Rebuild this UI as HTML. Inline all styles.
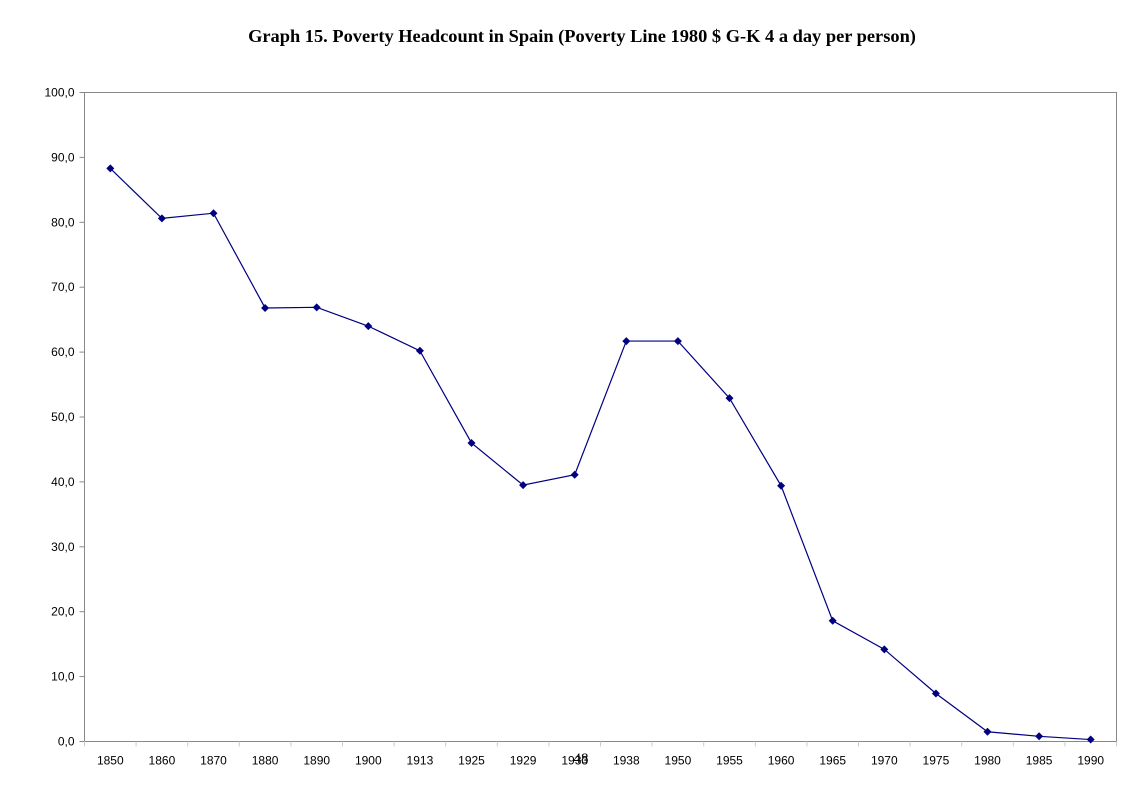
<!DOCTYPE html>
<html><head><meta charset="utf-8">
<style>
html,body{margin:0;padding:0;background:#fff;}
body{width:1144px;height:797px;overflow:hidden;}
svg text{font-family:"Liberation Sans",sans-serif;}
</style></head>
<body>
<svg id="chart" width="1144" height="797" xmlns="http://www.w3.org/2000/svg">
<text x="582" y="42" text-anchor="middle" style="font-family:'Liberation Serif',serif;font-weight:bold;font-size:18.4px">Graph 15. Poverty Headcount in Spain (Poverty Line 1980 $ G-K 4 a day per person)</text>
<rect x="84.5" y="92.5" width="1032" height="649" fill="#fff" stroke="#888" stroke-width="1"/>
<g id="axes"></g>
<g id="series"></g>
<text x="581" y="763" text-anchor="middle" style="font-family:'Liberation Serif',serif;font-size:15px">48</text>
</svg>
<script>
const categories = ["1850","1860","1870","1880","1890","1900","1913","1925","1929","1933","1938","1950","1955","1960","1965","1970","1975","1980","1985","1990"];
const values = [88.3,80.6,81.4,66.8,66.9,64.0,60.2,46.0,39.5,41.1,61.7,61.7,52.9,39.4,18.6,14.2,7.4,1.5,0.8,0.3];
const yTicks = [0,10,20,30,40,50,60,70,80,90,100];
const yTickLabels = ["0,0","10,0","20,0","30,0","40,0","50,0","60,0","70,0","80,0","90,0","100,0"];

const L=84.5, R=1116.5, T=92.5, B=741.5;
const band=(R-L)/categories.length;
const x=i=>L+band*(i+0.5);
const y=v=>B-(v/100)*(B-T);
const NS="http://www.w3.org/2000/svg";
const axes=document.getElementById('axes');
const series=document.getElementById('series');
function mk(tag,attrs,parent){const e=document.createElementNS(NS,tag);for(const k in attrs)e.setAttribute(k,attrs[k]);parent.appendChild(e);return e;}

yTicks.forEach((t,i)=>{
  const tk=mk('line',{x1:L-5,x2:L,y1:y(t),y2:y(t),stroke:'#888'},axes);
  
  
  const tx=mk('text',{x:L-10,y:y(t)+4,'text-anchor':'end','font-size':'12px'},axes);
  tx.textContent=yTickLabels[i];
  
  
});
for(let i=0;i<=categories.length;i++){
  const tk=mk('line',{x1:L+band*i,x2:L+band*i,y1:B,y2:B+5,stroke:'#ccc'},axes);
  
  
}
categories.forEach((c,i)=>{
  const tx=mk('text',{x:x(i),y:B+23,'text-anchor':'middle','font-size':'12px'},axes);
  tx.textContent=c;
  
  
});
const pts=values.map((v,i)=>x(i)+','+y(v)).join(' ');
const line=mk('polyline',{points:pts,fill:'none',stroke:'#000080','stroke-width':1.2},series);


values.forEach((v,i)=>{
  const cx=x(i),cy=y(v),s=4;
  const m=mk('polygon',{points:`${cx},${cy-s} ${cx+s},${cy} ${cx},${cy+s} ${cx-s},${cy}`,fill:'#000080'},series);
  
  
});
</script>
</body></html>
